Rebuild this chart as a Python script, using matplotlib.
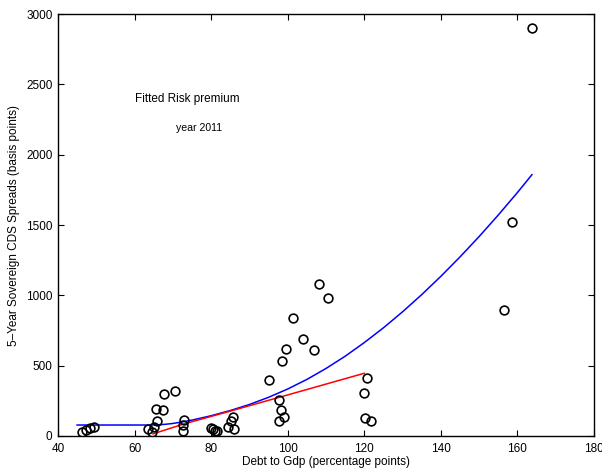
import matplotlib
matplotlib.use("Agg")
import matplotlib.pyplot as plt

plt.rcParams['font.family'] = ['Liberation Sans', 'DejaVu Sans']

# observed countries: debt to gdp vs 5y CDS spread (2011)
debt = [46.3, 47.2, 48.3, 49.3, 63.4, 64.5, 65.2, 65.8, 65.7, 67.4, 67.7, 70.6,
        72.8, 72.6, 72.6, 79.9, 80.6, 81.1, 81.5, 84.4, 85.3, 85.7, 86.1,
        95.1, 97.7, 98.3, 99.0, 97.7, 98.5, 99.6, 101.3, 104.1, 106.9, 108.2, 110.5,
        120.7, 119.9, 120.2, 121.8, 156.4, 158.7, 163.8]
cds = [28, 45, 55, 66, 50, 31, 66, 107, 190, 183, 296, 318,
       114, 76, 39, 57, 48, 38, 33, 66, 110, 135, 52,
       398, 256, 187, 135, 104, 535, 620, 839, 687, 609, 1082, 983,
       412, 303, 130, 109, 898, 1521, 2898]

# fitted curves
fit_x = [45.0, 50, 55, 60, 64, 66, 68, 70, 72.8, 75, 80, 85, 90, 95, 100,
         105, 110, 115, 120, 125, 130, 135, 140, 145, 150, 155, 160, 163.8]
fit_y = [78, 78, 78, 78, 78, 79.5, 83, 89, 102, 113, 144, 181, 224, 275, 334,
         402, 480, 567, 664, 769, 883, 1005, 1135, 1273, 1418, 1571, 1731, 1858]
lin_x = [64.8, 72.8, 84.5, 100, 120]
lin_y = [15, 85, 173, 292, 446]

fig = plt.figure(figsize=(6.02, 4.68), dpi=100)
ax = fig.add_axes([0.0963, 0.0684, 0.8904, 0.9016])

ax.plot(fit_x, fit_y, color='blue', lw=1.1)
ax.plot(lin_x, lin_y, color='red', lw=1.1)
ax.plot(debt, cds, 'o', mfc='none', mec='black', ms=6.3, mew=1.2)

ax.text(60.2, 2395, 'Fitted Risk premium', fontsize=8.5, va='center', ha='left')
ax.text(70.9, 2190, 'year 2011', fontsize=7.6, va='center', ha='left')

ax.set_xlim(40, 180)
ax.set_ylim(0, 3000)
ax.set_xticks(range(40, 181, 20))
ax.set_yticks(range(0, 3001, 500))
ax.tick_params(direction='in', top=True, right=True, length=4.5, width=0.8, labelsize=8.5)
ax.tick_params(axis='x', pad=5)
ax.tick_params(axis='y', pad=4)
for s in ax.spines.values():
    s.set_linewidth(1.0)
ax.set_xlabel('Debt to Gdp (percentage points)', fontsize=8.5, labelpad=1)
ax.set_ylabel('5–Year Sovereign CDS Spreads (basis points)', fontsize=8.5, labelpad=4)

fig.savefig('out.png', dpi=100, facecolor='white')
